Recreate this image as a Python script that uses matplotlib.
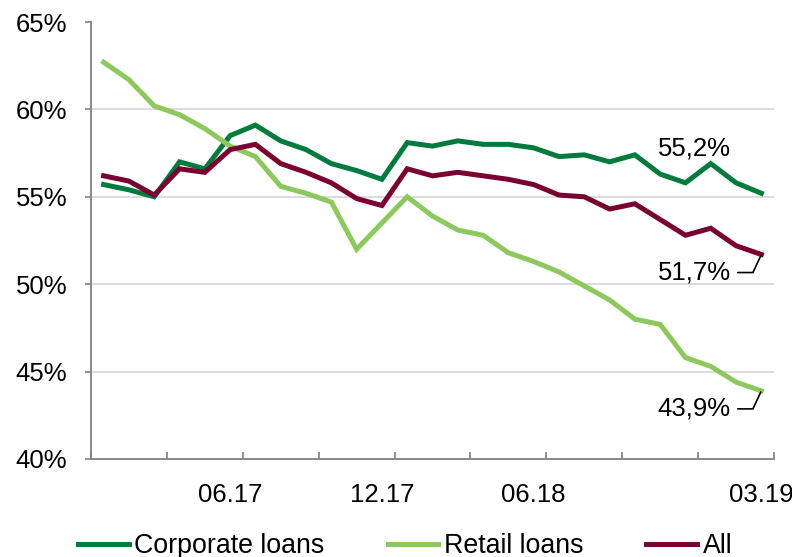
import matplotlib
matplotlib.use("Agg")
import matplotlib.pyplot as plt

# 字体：Arial 风格
plt.rcParams["font.family"] = ["Liberation Sans", "DejaVu Sans"]

# %% 数据
months = ["01.17", "02.17", "03.17", "04.17", "05.17", "06.17", "07.17", "08.17", "09.17",
          "10.17", "11.17", "12.17", "01.18", "02.18", "03.18", "04.18", "05.18", "06.18",
          "07.18", "08.18", "09.18", "10.18", "11.18", "12.18", "01.19", "02.19", "03.19"]
shown_labels = ["06.17", "12.17", "06.18", "03.19"]

corporate = [55.7, 55.4, 55.0, 57.0, 56.6, 58.5, 59.1, 58.2, 57.7, 56.9, 56.5, 56.0, 58.1, 57.9,
             58.2, 58.0, 58.0, 57.8, 57.3, 57.4, 57.0, 57.4, 56.3, 55.8, 56.9, 55.8, 55.2]
retail = [62.7, 61.7, 60.2, 59.7, 58.9, 57.9, 57.3, 55.6, 55.2, 54.7, 52.0, 53.5, 55.0, 53.9,
          53.1, 52.8, 51.8, 51.3, 50.7, 49.9, 49.1, 48.0, 47.7, 45.8, 45.3, 44.4, 43.9]
all_loans = [56.2, 55.9, 55.1, 56.6, 56.4, 57.7, 58.0, 56.9, 56.4, 55.8, 54.9, 54.5, 56.6, 56.2,
             56.4, 56.2, 56.0, 55.7, 55.1, 55.0, 54.3, 54.6, 53.7, 52.8, 53.2, 52.2, 51.7]

c_corp = "#007A3D"
c_retail = "#8DC85F"
c_all = "#7A0032"

# %% 绘图
fig = plt.figure(figsize=(7.92, 5.57), dpi=100)
ax = fig.add_axes([91 / 792, 1 - 459 / 557, (774 - 91) / 792, (459 - 22) / 557])

x = list(range(len(months)))
ax.plot(x, corporate, color=c_corp, lw=3.6, label="Corporate loans", solid_joinstyle="miter")
ax.plot(x, retail, color=c_retail, lw=3.6, label="Retail loans", solid_joinstyle="miter")
ax.plot(x, all_loans, color=c_all, lw=3.6, label="All", solid_joinstyle="miter")

ax.set_ylim(40, 65)
ax.set_xlim(-0.5, len(months) - 0.5)
ax.set_yticks([40, 45, 50, 55, 60, 65])
ax.set_yticklabels(["40%", "45%", "50%", "55%", "60%", "65%"])
for yv in [45, 50, 55, 60]:
    ax.axhline(yv, color="#D9D9D9", lw=1.3, zorder=0)

# 横轴：每季度一个刻度，只标注部分月份
ax.set_xticks([i - 0.5 for i in range(0, len(months) + 1, 3)])
ax.set_xticklabels([])
ax.set_xticks([months.index(m) for m in shown_labels], minor=True)
ax.set_xticklabels(shown_labels, minor=True)
ax.tick_params(axis="x", which="major", direction="in", length=5, width=1.2, color="#808080")
ax.tick_params(axis="x", which="minor", length=0, pad=17, labelsize=18.5)
ax.tick_params(axis="y", direction="out", length=4, width=1.2, color="#808080", pad=13, labelsize=18.5)

for s in ["top", "right"]:
    ax.spines[s].set_visible(False)
for s in ["left", "bottom"]:
    ax.spines[s].set_color("#808080")
    ax.spines[s].set_linewidth(1.3)

# 数值标注
ax.annotate("55,2%", xy=(26, corporate[-1]), xytext=(-22, 32), textcoords="offset points",
            ha="right", va="center", fontsize=18.5)
leader = dict(arrowstyle="-", connectionstyle="angle,angleA=0,angleB=65", color="black",
              lw=1.2, shrinkA=3, shrinkB=1)
ax.annotate("51,7%", xy=(26, all_loans[-1]), xytext=(-22, -13), textcoords="offset points",
            ha="right", va="center", fontsize=18.5, arrowprops=leader)
ax.annotate("43,9%", xy=(26, retail[-1]), xytext=(-22, -13), textcoords="offset points",
            ha="right", va="center", fontsize=18.5, arrowprops=leader)

fig.legend(loc="center left", bbox_to_anchor=(78 / 792, 1 - 546 / 557), ncol=3, frameon=False,
           fontsize=19.3, handlelength=1.9, handletextpad=0.2, columnspacing=2.35,
           borderpad=0, borderaxespad=0)

fig.savefig("out.png", dpi=100)
